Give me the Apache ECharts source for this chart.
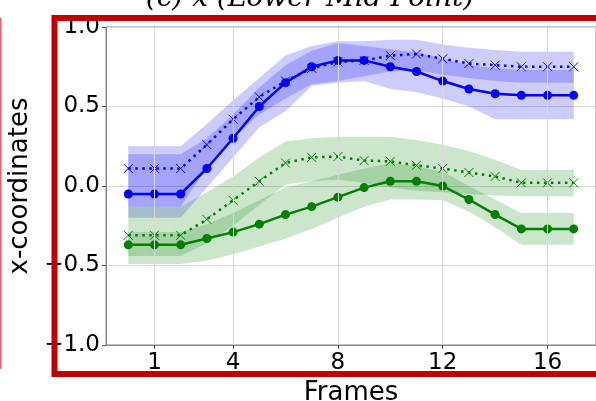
<!DOCTYPE html>
<html>
<head>
<meta charset="utf-8">
<script src="https://cdn.jsdelivr.net/npm/echarts@6/dist/echarts.min.js"></script>
<style>
  html, body { margin: 0; padding: 0; background: #fff; }
  #chart { width: 596px; height: 401px; }
</style>
</head>
<body>
<div id="chart"></div>
<script>
// frames on the x axis, ticks shown
const frames = [0, 1, 2, 3, 4, 5, 6, 7, 8, 9, 10, 11, 12, 13, 14, 15, 16, 17];
const xTicks = [1, 4, 8, 12, 16];
const yTicks = [-1, -0.5, 0, 0.5, 1];

// blue, solid line with dots
const blueSolid   = [-0.05, -0.05, -0.05, 0.11, 0.30, 0.50, 0.65, 0.75, 0.79, 0.79, 0.75, 0.72, 0.66, 0.61, 0.58, 0.57, 0.57, 0.57];
const blueSolidLo = [-0.20, -0.20, -0.20, -0.01, 0.18, 0.37, 0.47, 0.63, 0.65, 0.66, 0.61, 0.59, 0.55, 0.50, 0.42, 0.42, 0.42, 0.42];
const blueSolidHi = [0.20, 0.20, 0.20, 0.30, 0.45, 0.62, 0.76, 0.85, 0.90, 0.88, 0.86, 0.84, 0.80, 0.76, 0.74, 0.73, 0.73, 0.73];
// blue, dotted line with crosses
const blueDotted   = [0.11, 0.11, 0.11, 0.26, 0.42, 0.56, 0.66, 0.74, 0.78, 0.79, 0.82, 0.83, 0.80, 0.77, 0.76, 0.75, 0.75, 0.75];
const blueDottedLo = [-0.13, -0.13, -0.13, 0.12, 0.30, 0.45, 0.55, 0.64, 0.66, 0.69, 0.72, 0.73, 0.70, 0.68, 0.66, 0.65, 0.65, 0.65];
const blueDottedHi = [0.25, 0.25, 0.25, 0.39, 0.54, 0.68, 0.82, 0.88, 0.91, 0.91, 0.92, 0.92, 0.89, 0.87, 0.855, 0.845, 0.845, 0.845];
// green, solid line with dots
const greenSolid   = [-0.37, -0.37, -0.37, -0.33, -0.29, -0.24, -0.18, -0.13, -0.07, -0.01, 0.03, 0.03, 0.00, -0.085, -0.18, -0.27, -0.27, -0.27];
const greenSolidLo = [-0.49, -0.49, -0.49, -0.47, -0.43, -0.38, -0.33, -0.27, -0.20, -0.13, -0.085, -0.085, -0.09, -0.16, -0.26, -0.37, -0.37, -0.37];
const greenSolidHi = [-0.29, -0.29, -0.29, -0.24, -0.17, -0.09, -0.01, 0.03, 0.07, 0.11, 0.145, 0.125, 0.09, 0.00, -0.085, -0.17, -0.17, -0.17];
// green, dotted line with crosses
const greenDotted   = [-0.31, -0.31, -0.31, -0.21, -0.09, 0.03, 0.145, 0.18, 0.185, 0.16, 0.155, 0.13, 0.11, 0.085, 0.06, 0.02, 0.02, 0.02];
const greenDottedLo = [-0.44, -0.44, -0.44, -0.36, -0.25, -0.12, 0.01, 0.03, 0.04, 0.02, -0.01, -0.03, -0.04, -0.05, -0.06, -0.065, -0.065, -0.065];
const greenDottedHi = [-0.13, -0.13, -0.13, -0.04, 0.06, 0.18, 0.28, 0.30, 0.31, 0.31, 0.31, 0.29, 0.26, 0.22, 0.165, 0.10, 0.10, 0.10];

const BLUE = '#0000ff';
const GREEN = '#008000';
const CROSS = 'path://M0,0L10,10M10,0L0,10';

const pairs = (ys) => frames.map((f, i) => [f, ys[i]]);

// shaded band: one polygon, upper edge then lower edge back
function band(lo, hi, color) {
  return {
    type: 'custom', silent: true, z: 1,
    data: frames.map((f, i) => [f, lo[i], hi[i]]),
    encode: { x: 0, y: [1, 2] },
    renderItem: (params, api) => {
      if (params.dataIndex !== 0) return null;
      const top = frames.map((f, i) => api.coord([f, hi[i]]));
      const bottom = frames.map((f, i) => api.coord([f, lo[i]])).reverse();
      return {
        type: 'polygon',
        shape: { points: top.concat(bottom) },
        style: { fill: color, opacity: 0.2 }
      };
    }
  };
}

function solid(ys, color) {
  return {
    type: 'line', data: pairs(ys), symbol: 'circle', symbolSize: 9,
    lineStyle: { color: color, width: 2.5 }, itemStyle: { color: color }, z: 4
  };
}

function dotted(ys, color) {
  return {
    type: 'line', data: pairs(ys), symbol: CROSS, symbolSize: 9,
    lineStyle: { color: color, width: 2.5, type: [2.5, 4.5] },
    itemStyle: { color: 'none', borderColor: color, borderWidth: 1 }, z: 3
  };
}

const chart = echarts.init(document.getElementById('chart'));
const font = 'DejaVu Sans';

chart.setOption({
  animation: false,
  grid: {
    left: 106, top: 27, width: 490, height: 318,
    outerBoundsMode: 'none', containLabel: false,
    show: true, borderColor: '#888', borderWidth: 1
  },
  xAxis: {
    type: 'value', min: -0.85, max: 17.85,
    axisLine: { show: true, onZero: false, lineStyle: { color: '#888' } },
    axisTick: { show: true, length: 4, customValues: xTicks, lineStyle: { color: '#555' } },
    axisLabel: { customValues: xTicks, color: '#000', fontSize: 23, fontFamily: font, margin: 7 },
    splitLine: { show: false },
    name: 'Frames', nameLocation: 'middle', nameGap: 30,
    nameTextStyle: { color: '#000', fontSize: 26, fontFamily: font }
  },
  yAxis: {
    type: 'value', min: -1, max: 1, interval: 0.5,
    axisLine: { show: true, onZero: false, lineStyle: { color: '#888' } },
    axisTick: { show: true, length: 4, lineStyle: { color: '#555' } },
    axisLabel: {
      color: '#000', fontSize: 23, fontFamily: font, margin: 6,
      formatter: (v) => (v < 0 ? '\u2212' : '') + Math.abs(v).toFixed(1)
    },
    splitLine: { show: true, lineStyle: { color: '#d9d9d9', width: 1 } },
    name: 'x-coordinates', nameLocation: 'middle', nameGap: 68,
    nameTextStyle: { color: '#000', fontSize: 26, fontFamily: font }
  },
  series: [
    // vertical grid lines at the x ticks
    {
      type: 'line', data: [], z: 0, silent: true,
      markLine: {
        silent: true, symbol: 'none', label: { show: false },
        lineStyle: { color: '#d9d9d9', width: 1, type: 'solid' },
        data: xTicks.map(v => ({ xAxis: v }))
      }
    },
    band(blueSolidLo, blueSolidHi, BLUE),
    band(blueDottedLo, blueDottedHi, BLUE),
    band(greenSolidLo, greenSolidHi, GREEN),
    band(greenDottedLo, greenDottedHi, GREEN),
    dotted(blueDotted, BLUE),
    dotted(greenDotted, GREEN),
    solid(blueSolid, BLUE),
    solid(greenSolid, GREEN)
  ],
  graphic: [
    {
      type: 'text', x: 310, y: 13, z: 100,
      style: {
        text: '(c) x (Lower Mid Point)', font: 'italic 28px "DejaVu Serif"', fill: '#000',
        textAlign: 'center', textVerticalAlign: 'bottom', align: 'center', verticalAlign: 'bottom'
      }
    },
    // red frame drawn over the chart
    {
      type: 'rect', z: 100, silent: true,
      shape: { x: 54.5, y: 18, width: 560, height: 356 },
      style: { fill: 'none', stroke: '#c00000', lineWidth: 6 }
    },
    {
      type: 'line', z: 100, silent: true,
      shape: { x1: 0.5, y1: 18, x2: 0.5, y2: 369 },
      style: { stroke: '#e06666', lineWidth: 2 }
    }
  ]
});
</script>
</body>
</html>
